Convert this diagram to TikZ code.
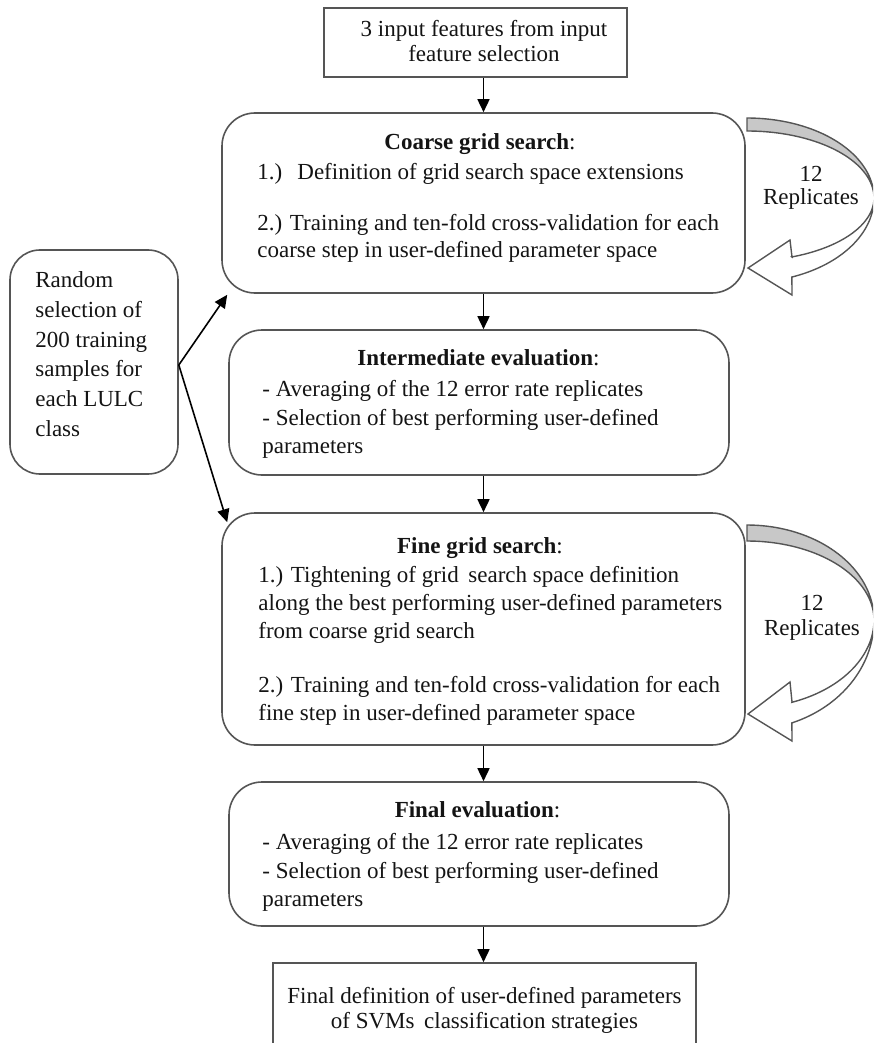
\documentclass[tikz,border=0pt]{standalone}
\usepackage{fontspec}
\setmainfont{Liberation Serif}
\usetikzlibrary{arrows.meta}
\definecolor{edge}{RGB}{85,85,85}
\definecolor{ink}{RGB}{20,20,20}
\definecolor{shade}{RGB}{200,200,200}
\begin{document}
\begin{tikzpicture}[x=0.5pt,y=-0.5pt,
  font=\fontsize{11.5pt}{13.8pt}\selectfont, text=ink,
  sqbox/.style={draw=edge, line width=0.8pt, fill=white, inner sep=0pt},
  rbox/.style={sqbox, rounded corners=16.5pt},
  lbox/.style={sqbox, rounded corners=15pt},
  arr/.style={-{Triangle[length=6.5pt,width=6pt]}, line width=0.8pt, black},
  txt/.style={anchor=base west, inner sep=0pt},
  ctxt/.style={anchor=base, inner sep=0pt},
  crescent/.style={draw=edge, line width=0.7pt, fill=shade},
  ribbon/.style={draw=edge, line width=0.7pt, fill=white}]
\useasboundingbox (0,0) rectangle (873,1043);
\clip (0,0) rectangle (873,1043);

% boxes
\node[sqbox, minimum width=151.5pt, minimum height=34.5pt] (top) at (475.5,42.5) {};
\node[rbox, minimum width=261.5pt, minimum height=90pt] (coarse) at (483.5,203) {};
\node[rbox, minimum width=250pt, minimum height=72.5pt] (inter) at (479,402.5) {};
\node[rbox, minimum width=261.5pt, minimum height=116pt] (fine) at (483.5,629) {};
\node[rbox, minimum width=250pt, minimum height=72pt] (final) at (479,854) {};
\node[sqbox, minimum width=211.5pt, minimum height=53.5pt] (result) at (484.5,1016.5) {};
\node[lbox, minimum width=84pt, minimum height=112pt] (random) at (94,362) {};

% vertical flow
\draw[arr] (coarse.north |- top.south) -- (coarse.north);
\draw[arr] (coarse.south) -- (coarse.south |- inter.north);
\draw[arr] (fine.north |- inter.south) -- (fine.north);
\draw[arr] (fine.south) -- (fine.south |- final.north);
\draw[arr] (fine.south |- final.south) -- (fine.south |- result.north);

% sample selection feeds both grid searches
\coordinate (split) at (random.east |- 0,365);
\draw[arr] (split) -- ([xshift=3pt,yshift=-0.5pt]coarse.south west);
\draw[arr] (split) -- ([xshift=3pt,yshift=-5pt]fine.north west);

% replicate loop around the coarse grid search
\filldraw[crescent] (747,118) -- plot[domain=90:0,samples=40] ({747+127*cos(\x)},{198-80*sin(\x)})
  -- plot[domain=0:90,samples=40] ({747+127*cos(\x)},{198-67*sin(\x)}) -- cycle;
\filldraw[ribbon] plot[domain=0:69.3,samples=40] ({747+127*cos(\x)},{198+84.5*sin(\x)})
  -- (792,295) -- (748,268) -- (790,240) -- (792,257)
  -- plot[domain=69.3:0,samples=40] ({747+127*cos(\x)},{198+63*sin(\x)}) -- cycle;

% replicate loop around the fine grid search
\filldraw[crescent] (747,525) -- plot[domain=90:0,samples=40] ({747+127*cos(\x)},{620-95*sin(\x)})
  -- plot[domain=0:90,samples=40] ({747+127*cos(\x)},{620-79*sin(\x)}) -- cycle;
\filldraw[ribbon] plot[domain=0:69.3,samples=40] ({747+127*cos(\x)},{620+110*sin(\x)})
  -- (792,741) -- (748,714) -- (790,682) -- (792,702)
  -- plot[domain=69.3:0,samples=40] ({747+127*cos(\x)},{620+88*sin(\x)}) -- cycle;

\node[ctxt] (rep1a) at (811,182) {12};
\node[ctxt] (rep1b) at (811,205) {Replicates};
\node[ctxt] (rep2a) at (812,610) {12};
\node[ctxt] (rep2b) at (812,635) {Replicates};

% input box text
\node[ctxt] (top1) at (484,37) {3 input features from input};
\node[ctxt] (top2) at (484,62) {feature selection};

% coarse grid search
\node[ctxt] (c0) at (480,150) {\textbf{Coarse grid search}:};
\node[txt] (c1) at (257,180) {\makebox[20pt][l]{1.)}Definition of grid search space extensions};
\node[txt] (c2) at (257,230) {2.) Training and ten-fold cross-validation for each};
\node[txt] (c3) at (257,257) {coarse step in user-defined parameter space};

% intermediate evaluation
\node[ctxt] (i0) at (478.5,365) {\textbf{Intermediate evaluation}:};
\node[txt] (i1) at (262,396) {- Averaging of the 12 error rate replicates};
\node[txt] (i2) at (262,425) {- Selection of best performing user-defined};
\node[txt] (i3) at (262,453) {parameters};

% fine grid search
\node[ctxt] (f0) at (480,553) {\textbf{Fine grid search}:};
\node[txt] (f1) at (258,582) {1.) Tightening of grid\, search space definition};
\node[txt] (f2) at (258,610) {along the best performing user-defined parameters};
\node[txt] (f3) at (258,638) {from coarse grid search};
\node[txt] (f4) at (258,692) {2.) Training and ten-fold cross-validation for each};
\node[txt] (f5) at (258,720) {fine step in user-defined parameter space};

% final evaluation
\node[ctxt] (e0) at (477.5,817) {\textbf{Final evaluation}:};
\node[txt] (e1) at (262,849) {- Averaging of the 12 error rate replicates};
\node[txt] (e2) at (262,878) {- Selection of best performing user-defined};
\node[txt] (e3) at (262,906) {parameters};

% result
\node[ctxt] (r1) at (484.5,1003) {Final definition of user-defined parameters};
\node[ctxt] (r2) at (484.5,1028) {of SVMs\, classification strategies};

% sampling box text
\node[txt] (s1) at (35,287) {Random};
\node[txt] (s2) at (35,317) {selection of};
\node[txt] (s3) at (35,347) {200 training};
\node[txt] (s4) at (35,376) {samples for};
\node[txt] (s5) at (35,406) {each LULC};
\node[txt] (s6) at (35,436) {class};
\end{tikzpicture}
\end{document}
